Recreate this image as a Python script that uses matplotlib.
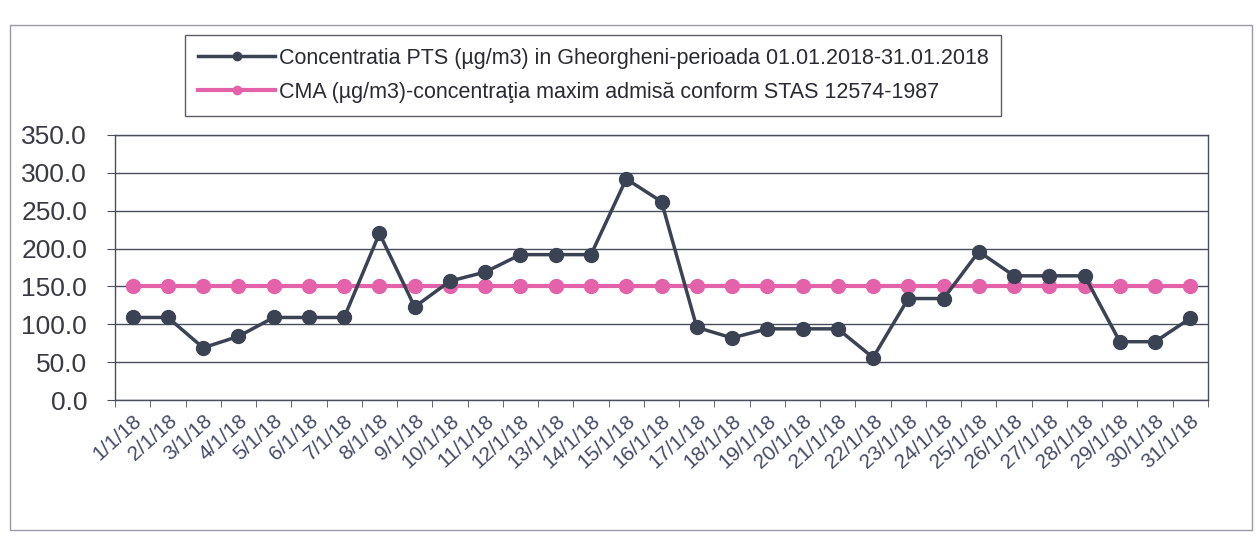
import matplotlib
matplotlib.use("Agg")
import matplotlib.pyplot as plt
from matplotlib.patches import Rectangle

days = [f"{d}/1/18" for d in range(1, 32)]
pts = [109, 109, 69, 84, 109, 109, 109, 220, 123, 157, 169, 192, 192, 192,
       292, 262, 96, 82, 94, 94, 94, 56, 134, 134, 196, 164, 164, 164, 77, 77, 108]
cma = [150] * 31
yticks = [0, 50, 100, 150, 200, 250, 300, 350]
label_pts = "Concentratia PTS (µg/m3) in Gheorgheni-perioada 01.01.2018-31.01.2018"
label_cma = "CMA (µg/m3)-concentraţia maxim admisă conform STAS 12574-1987"

plt.rcParams['font.family'] = ['Liberation Sans', 'DejaVu Sans']

dark = '#3b4254'
pink = '#e462aa'
grid = '#4a4e5c'

fig = plt.figure(figsize=(12.58, 5.40), dpi=100)
fig.patches.append(Rectangle((10/1258, 10/540), 1242/1258, 505/540, transform=fig.transFigure,
                             fill=False, edgecolor='#9a9aa8', linewidth=1.0))
ax = fig.add_axes([115/1258, 1-400/540, (1208-115)/1258, (400-135)/540])

x = list(range(len(days)))
l1, = ax.plot(x, pts, color=dark, linewidth=2.5, marker='o', markersize=10,
              markerfacecolor=dark, markeredgecolor=dark, label=label_pts, zorder=4)
l2, = ax.plot(x, cma, color=pink, linewidth=3, marker='o', markersize=10,
              markerfacecolor=pink, markeredgecolor=pink, label=label_cma, zorder=3)

ax.set_xlim(-0.5, len(days) - 0.5)
ax.set_ylim(0, 350)
ax.set_yticks(yticks)
ax.set_yticklabels([f"{v:.1f}" for v in yticks], fontsize=19, color='#3a3a44')
ax.yaxis.grid(True, color=grid, linewidth=1.0)
ax.set_axisbelow(True)

ax.set_xticks(x)
ax.set_xticklabels(days, rotation=42, ha='right', va='top', rotation_mode='anchor',
                   fontsize=15, color='#454a66')
ax.tick_params(axis='x', which='major', length=0, pad=8)
ax.set_xticks([i - 0.5 for i in range(len(days) + 1)], minor=True)
ax.tick_params(axis='x', which='minor', length=5, color=grid, direction='out')
ax.tick_params(axis='y', length=6, color=grid, direction='out', pad=14)

for s in ax.spines.values():
    s.set_color(grid)
    s.set_linewidth(1.0)

leg = fig.legend(handles=[l1, l2], loc='upper left', bbox_to_anchor=(185/1258, 1-35/540),
                 borderaxespad=0, fontsize=15.5, frameon=True, fancybox=False,
                 edgecolor='#333340', handlelength=3.6, handletextpad=0.15, borderpad=0.6,
                 labelspacing=0.6, markerscale=0.6)
leg.get_frame().set_linewidth(1.0)
for t in leg.get_texts():
    t.set_color('#2a2a33')

fig.savefig('out.png', dpi=100)
